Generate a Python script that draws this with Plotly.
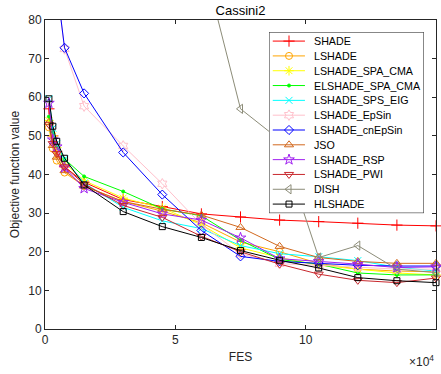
import plotly.graph_objects as go

# ---------------- data ----------------
fes = [1500, 3000, 4500, 7500, 15000, 30000, 45000, 60000, 75000, 90000, 105000, 120000, 135000, 150000]

names = ["SHADE", "LSHADE", "LSHADE_SPA_CMA", "ELSHADE_SPA_CMA", "LSHADE_SPS_EIG",
         "LSHADE_EpSin", "LSHADE_cnEpSin", "JSO", "LSHADE_RSP", "LSHADE_PWI", "DISH", "HLSHADE"]

shade = [57.0, 50.0, 46.0, 42.0, 38.0, 33.5, 31.7, 29.8, 29.0, 28.2, 27.8, 27.4, 26.9, 26.7]
lshade = [52.2, 46.7, 43.6, 40.5, 37.0, 33.0, 30.5, 27.5, 22.5, 20.0, 17.0, 15.5, 15.0, 14.8]
lshade_spa_cma = [54.0, 50.0, 47.0, 43.0, 38.4, 33.9, 31.3, 27.0, 21.0, 18.5, 16.5, 15.5, 14.5, 14.0]
elshade_spa_cma = [55.0, 51.0, 47.5, 44.0, 39.5, 35.6, 31.1, 29.3, 23.0, 18.0, 16.8, 14.5, 14.0, 14.0]
lshade_sps_eig = [59.6, 52.0, 48.0, 44.0, 37.8, 31.5, 28.0, 26.0, 21.6, 19.5, 18.7, 17.7, 16.0, 15.0]
lshade_epsin = [120.0, 100.0, 89.0, 72.5, 57.7, 47.4, 37.6, 27.0, 19.5, 16.9, 16.5, 16.0, 15.5, 15.5]
lshade_cnepsin = [130.0, 105.0, 89.0, 72.8, 61.0, 45.7, 34.8, 25.5, 18.8, 17.5, 17.0, 16.5, 16.3, 16.3]
jso = [53.5, 47.5, 44.5, 41.0, 37.0, 33.0, 31.0, 29.5, 26.3, 21.4, 18.5, 17.5, 17.0, 17.0]
lshade_rsp = [58.5, 49.0, 47.2, 41.8, 36.4, 32.8, 29.8, 28.2, 23.6, 18.2, 17.5, 16.8, 15.9, 16.1]
lshade_pwi = [53.0, 48.0, 45.4, 42.0, 37.5, 32.0, 28.9, 24.0, 20.0, 16.8, 14.2, 12.6, 12.0, 13.2]
dish = [260.0, 220.0, 190.0, 160.0, 140.0, 120.0, 108.0, 97.0, 57.0, 49.0, 18.5, 21.6, 15.5, 14.6]
hlshade = [59.6, 52.5, 48.6, 44.2, 37.3, 30.4, 26.5, 23.7, 20.3, 17.8, 15.8, 13.3, 12.5, 12.0]

series = [shade, lshade, lshade_spa_cma, elshade_spa_cma, lshade_sps_eig,
          lshade_epsin, lshade_cnepsin, jso, lshade_rsp, lshade_pwi, dish, hlshade]

colors = ["#FF0000", "#FFA500", "#FFFF00", "#00FF00", "#00FFFF", "#FFC0CB",
          "#0000FF", "#D2691E", "#A020F0", "#C8282D", "#8C8C78", "#000000"]
symbols = ["cross-thin-open", "circle-open", "asterisk-open", "circle", "x-thin-open",
           "hexagram-open", "diamond-open", "triangle-up-open", "star-open",
           "triangle-down-open", "triangle-left-open", "square-open"]
sizes = [8, 7, 8, 3, 7, 8, 7, 8, 8, 8, 8, 6]

xticks = [0, 50000, 100000, 150000]
xticktext = ["0", "5", "10", "15"]
yticks = [0, 10, 20, 30, 40, 50, 60, 70, 80]

FONT = "Liberation Sans, Arial, sans-serif"
AX = "#262626"

fig = go.Figure()

for name, ys, c, s, sz in zip(names, series, colors, symbols, sizes):
    fig.add_trace(go.Scatter(
        x=fes, y=ys, name=name, mode="lines+markers", showlegend=False,
        line=dict(color=c, width=1),
        marker=dict(symbol=s, size=sz, color=c, line=dict(color=c, width=1)),
        cliponaxis=False,
        xaxis="x", yaxis="y"))

# ---------------- custom compact legend (inset axes) ----------------
n = len(names)
x_l0, x_mid, x_l1, x_txt = 0.024, 0.129, 0.232, 0.275
for i, (name, c, s, sz) in enumerate(zip(names, colors, symbols, sizes)):
    fig.add_trace(go.Scatter(
        x=[x_l0, x_l1], y=[i, i], mode="lines", showlegend=False, hoverinfo="skip",
        line=dict(color=c, width=1), xaxis="x2", yaxis="y2"))
    fig.add_trace(go.Scatter(
        x=[x_mid], y=[i], mode="markers", showlegend=False, hoverinfo="skip",
        marker=dict(symbol=s, size=sz, color=c, line=dict(color=c, width=1)),
        xaxis="x2", yaxis="y2"))
    fig.add_annotation(x=x_txt, y=i, xref="x2", yref="y2", text=name,
                       showarrow=False, xanchor="left", yanchor="middle",
                       font=dict(family=FONT, size=10.7, color="#000000"))

fig.add_shape(type="rect", xref="x2", yref="y2", x0=0, x1=1, y0=-0.61, y1=n - 1 + 0.61,
              fillcolor="white", line=dict(color="#262626", width=1), layer="below")

fig.update_layout(
    width=441, height=374,
    margin=dict(l=45, r=5, t=20, b=45),
    paper_bgcolor="white", plot_bgcolor="white",
    font=dict(family=FONT, size=12, color=AX),
    title=dict(text="Cassini2", x=0.5, xref="paper", xanchor="center",
               y=1 - 10 / 374, yref="container", yanchor="middle",
               font=dict(family=FONT, size=13, color="#000000")),
    xaxis=dict(range=[0, 150000], tickvals=xticks, ticktext=xticktext, automargin=False,
               ticks="inside", ticklen=4, tickcolor=AX, showgrid=False, zeroline=False,
               showline=True, linecolor=AX, linewidth=1, mirror="ticks",
               tickfont=dict(family=FONT, size=12, color=AX),
               title=dict(text="FES", font=dict(family=FONT, size=12, color=AX), standoff=6)),
    yaxis=dict(range=[0, 80], tickvals=yticks, automargin=False,
               ticks="inside", ticklen=4, tickcolor=AX, showgrid=False, zeroline=False,
               showline=True, linecolor=AX, linewidth=1, mirror="ticks",
               tickfont=dict(family=FONT, size=12, color=AX),
               title=dict(text="Objective function value",
                          font=dict(family=FONT, size=12, color=AX), standoff=6)),
    xaxis2=dict(domain=[0.573, 0.969], range=[0, 1], visible=False, fixedrange=True),
    yaxis2=dict(domain=[0.375, 0.961], range=[n - 1 + 0.61, -0.61], visible=False,
                fixedrange=True),
    showlegend=False,
)

fig.add_annotation(x=1, y=-0.105, xref="paper", yref="paper", xanchor="right",
                   yanchor="middle", showarrow=False,
                   text="\u00d710<sup>4</sup>",
                   font=dict(family=FONT, size=12, color=AX))

fig.write_html("out.html", config={"displayModeBar": False},
               post_script="document.body.style.margin='0';document.body.style.padding='0';")
